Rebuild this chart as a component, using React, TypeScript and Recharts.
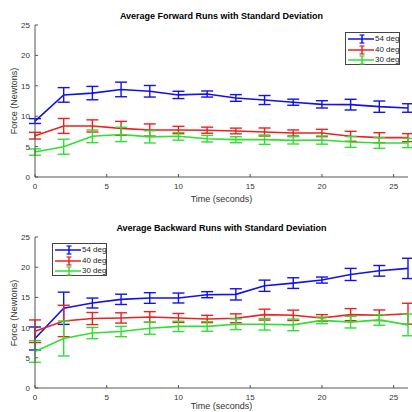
import React from "react";
import { ComposedChart, Line, ErrorBar, XAxis, YAxis } from "recharts";

const times = [0, 2, 4, 6, 8, 10, 12, 14, 16, 18, 20, 22, 24, 26];
const seriesNames = ["54 deg", "40 deg", "30 deg"];
const xTicks = [0, 5, 10, 15, 20, 25];
const yTicks = [0, 5, 10, 15, 20, 25];

// forward runs
const fwd54 = [9.2, 13.5, 13.8, 14.4, 14.1, 13.5, 13.65, 13.0, 12.66, 12.3, 11.95, 11.9, 11.57, 11.35];
const fwd54Sd = [0.4, 1.2, 1.1, 1.2, 0.95, 0.6, 0.5, 0.55, 0.74, 0.5, 0.6, 0.88, 0.93, 0.7];
const fwd40 = [6.8, 8.4, 8.4, 8.0, 7.73, 7.73, 7.7, 7.57, 7.4, 7.24, 7.24, 6.69, 6.47, 6.47];
const fwd40Sd = [0.55, 1.23, 1.0, 1.15, 1.0, 0.6, 0.5, 0.47, 0.66, 0.5, 0.6, 0.82, 0.82, 0.66];
const fwd30 = [4.1, 4.98, 6.69, 7.0, 6.6, 6.69, 6.3, 6.14, 6.14, 6.03, 6.08, 5.76, 5.6, 5.6];
const fwd30Sd = [0.52, 1.23, 1.04, 1.18, 1.0, 0.63, 0.55, 0.5, 0.77, 0.6, 0.68, 0.88, 0.88, 0.77];

// backward runs
const bwd54 = [8.2, 13.2, 14.07, 14.68, 14.9, 14.9, 15.45, 15.5, 16.93, 17.37, 17.87, 18.8, 19.4, 19.8];
const bwd54Sd = [1.9, 2.67, 0.82, 0.85, 0.88, 0.82, 0.5, 0.93, 0.93, 0.88, 0.5, 1.0, 0.88, 1.68];
const bwd40 = [9.4, 11.1, 11.5, 11.6, 11.76, 11.6, 11.43, 11.54, 12.15, 12.04, 11.6, 12.15, 12.04, 12.3];
const bwd40Sd = [1.87, 2.6, 1.0, 0.85, 0.88, 0.74, 0.6, 0.74, 0.9, 0.85, 0.55, 1.0, 0.88, 1.73];
const bwd30 = [6.05, 8.2, 9.1, 9.35, 9.9, 10.2, 10.2, 10.55, 10.55, 10.45, 11.2, 10.9, 11.27, 10.45];
const bwd30Sd = [1.8, 2.9, 0.93, 0.85, 1.0, 0.85, 0.8, 0.88, 0.96, 0.96, 0.55, 0.96, 0.88, 1.8];

const colors = ["#1010f0", "#ee2020", "#30e030"];
const axisColor = "#555";
const font = "'Liberation Sans', Arial, sans-serif";

const buildRows = (vals: number[][], sds: number[][]) =>
  times.map((t, i) => ({
    t,
    a: vals[0][i], ae: sds[0][i],
    b: vals[1][i], be: sds[1][i],
    c: vals[2][i], ce: sds[2][i],
  }));

const forwardRows = buildRows([fwd54, fwd40, fwd30], [fwd54Sd, fwd40Sd, fwd30Sd]);
const backwardRows = buildRows([bwd54, bwd40, bwd30], [bwd54Sd, bwd40Sd, bwd30Sd]);

const XTick = (props: any) => {
  const { x, y, payload } = props;
  return (
    <g>
      <line x1={x} x2={x} y1={y} y2={y - 3} stroke={axisColor} />
      <text x={x} y={y + 12} textAnchor="middle" fontSize={8} fill="#333" fontFamily={font}>
        {payload.value}
      </text>
    </g>
  );
};

const YTick = (props: any) => {
  const { x, y, payload } = props;
  return (
    <g>
      <line x1={x} x2={x + 3} y1={y} y2={y} stroke={axisColor} />
      <text x={x - 5} y={y + 3} textAnchor="end" fontSize={8} fill="#333" fontFamily={font}>
        {payload.value}
      </text>
    </g>
  );
};

const LegendBox = ({ left, top }: { left: number; top: number }) => (
  <div
    style={{
      position: "absolute", left, top, width: 55, height: 33,
      border: "1px solid #444", background: "#fff", boxSizing: "border-box",
    }}
  >
    {seriesNames.map((n, i) => (
      <div key={n} style={{ position: "absolute", left: 0, top: 1 + i * 10.6, height: 10, width: 54 }}>
        <svg width={30} height={10} style={{ position: "absolute", left: 0, top: 0 }}>
          <line x1={2} x2={28} y1={5} y2={5} stroke={colors[i]} strokeWidth={1.5} />
          <line x1={16} x2={16} y1={1} y2={9} stroke={colors[i]} strokeWidth={1.5} />
          <line x1={13.5} x2={18.5} y1={1} y2={1} stroke={colors[i]} strokeWidth={1.2} />
          <line x1={13.5} x2={18.5} y1={9} y2={9} stroke={colors[i]} strokeWidth={1.2} />
        </svg>
        <span
          style={{
            position: "absolute", left: 29, top: 0, fontSize: 8, lineHeight: "10px",
            fontFamily: font, color: "#222",
          }}
        >
          {n}
        </span>
      </div>
    ))}
  </div>
);

const Panel = ({ rows, top, plotTop, axisH, labelTop, title, legend }: any) => (
  <div style={{ position: "absolute", left: 0, top, width: 412, height: 206 }}>
    <ComposedChart width={412} height={206} data={rows} margin={{ top: plotTop, right: 4, left: 0, bottom: 0 }}>
      <XAxis
        dataKey="t" type="number" domain={[0, 26]} ticks={xTicks} height={axisH}
        tickSize={0} tickMargin={0} tickLine={false} tick={<XTick />}
        axisLine={{ stroke: axisColor }} interval={0}
      />
      <YAxis
        type="number" domain={[0, 25]} ticks={yTicks} width={35}
        tickSize={0} tickMargin={0} tickLine={false} tick={<YTick />}
        axisLine={{ stroke: axisColor }} interval={0}
      />
      {["a", "b", "c"].map((k, i) => (
        <Line
          key={k} dataKey={k} stroke={colors[i]} strokeWidth={1.6} dot={false}
          isAnimationActive={false} type="linear"
        >
          <ErrorBar dataKey={k + "e"} width={6} strokeWidth={1.4} stroke={colors[i]} direction="y" isAnimationActive={false} />
        </Line>
      ))}
    </ComposedChart>
    <div
      style={{
        position: "absolute", left: 35, width: 373, top: plotTop - 14, textAlign: "center",
        fontSize: 9, fontWeight: "bold", fontFamily: font, color: "#000", lineHeight: "10px",
      }}
    >
      {title}
    </div>
    <div
      style={{
        position: "absolute", left: 35, width: 373, top: labelTop, textAlign: "center",
        fontSize: 9, fontFamily: font, color: "#333", lineHeight: "10px",
      }}
    >
      Time (seconds)
    </div>
    <div
      style={{
        position: "absolute", left: 14 - 50, width: 100, top: plotTop + 76 - 5, textAlign: "center",
        fontSize: 9, fontFamily: font, color: "#333", lineHeight: "10px",
        transform: "rotate(-90deg)",
      }}
    >
      Force (Newtons)
    </div>
    <LegendBox left={legend[0]} top={legend[1]} />
  </div>
);

export default function App() {
  return (
    <div style={{ position: "absolute", left: 0, top: 0, width: 412, height: 412, background: "#fff", overflow: "hidden" }}>
      <Panel rows={forwardRows} top={0} plotTop={25} axisH={29} labelTop={194}
        title="Average Forward Runs with Standard Deviation" legend={[345, 32]} />
      <Panel rows={backwardRows} top={206} plotTop={31} axisH={24} labelTop={195}
        title="Average Backward Runs with Standard Deviation" legend={[52, 37]} />
    </div>
  );
}
